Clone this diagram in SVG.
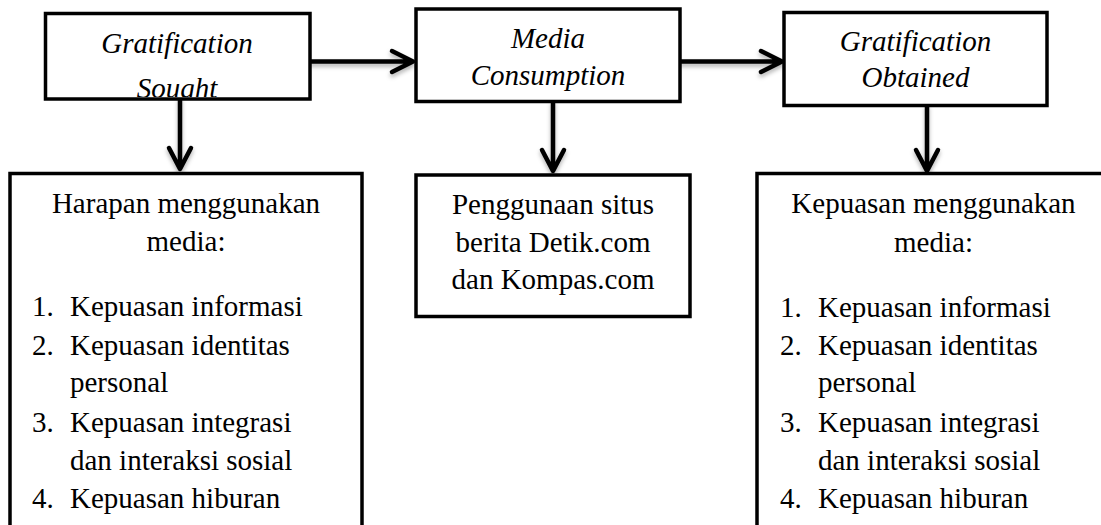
<svg xmlns="http://www.w3.org/2000/svg" width="1101" height="525" viewBox="0 0 1101 525">
<style>
.box{fill:#fff;stroke:#000;stroke-width:3.5}
text{font-family:'Liberation Serif',Tinos,'Times New Roman',Times,serif;font-size:29px;fill:#000}
.i{font-style:italic}
.c{text-anchor:middle}
.ln{fill:none;stroke:#000;stroke-width:4.5;stroke-linecap:round;stroke-linejoin:round}
</style>
<defs>
<filter id="sh" x="-20%" y="-20%" width="140%" height="160%">
<feDropShadow dx="0" dy="3" stdDeviation="2" flood-color="#000" flood-opacity="0.3"/>
</filter>
<clipPath id="clip1"><rect x="47" y="15" width="261" height="82"/></clipPath>
</defs>
<rect width="1101" height="525" fill="#fff"/>
<g id="connectors" filter="url(#sh)">
<path class="ln" d="M310 61.5 H412 M392 51 L413 61.5 L392 72"/>
<path class="ln" d="M680 61.5 H781 M761 51 L782 61.5 L761 72"/>
<path class="ln" d="M180 99 V168 M169 148 L180 169 L191 148"/>
<path class="ln" d="M553 102 V170 M542 150 L553 171 L564 150"/>
<path class="ln" d="M927 106 V170 M916 150 L927 171 L938 150"/>
</g>
<g id="gratification-sought">
<rect class="box" x="45.5" y="13.5" width="264.5" height="85.5"/>
<g clip-path="url(#clip1)">
<text class="i c" x="177" y="53">Gratification</text>
<text class="i c" x="177" y="98">Sought</text>
</g>
</g>
<g id="media-consumption">
<rect class="box" x="416" y="9" width="264" height="92.5"/>
<text class="i c" x="548" y="48">Media</text>
<text class="i c" x="548" y="85">Consumption</text>
</g>
<g id="gratification-obtained">
<rect class="box" x="784" y="12.5" width="263" height="93"/>
<text class="i c" x="915.5" y="51">Gratification</text>
<text class="i c" x="915.5" y="87">Obtained</text>
</g>
<g id="harapan">
<rect class="box" x="10" y="173.5" width="352" height="380"/>
<text class="c" x="186" y="213">Harapan menggunakan</text>
<text class="c" x="186" y="251">media:</text>
<text x="32" y="316">1.</text><text x="70" y="316">Kepuasan informasi</text>
<text x="32" y="355">2.</text><text x="70" y="355">Kepuasan identitas</text>
<text x="70" y="392">personal</text>
<text x="32" y="432">3.</text><text x="70" y="432">Kepuasan integrasi</text>
<text x="70" y="470">dan interaksi sosial</text>
<text x="32" y="508">4.</text><text x="70" y="508">Kepuasan hiburan</text>
</g>
<g id="penggunaan">
<rect class="box" x="416" y="175" width="274" height="141.5"/>
<text class="c" x="553" y="214">Penggunaan situs</text>
<text class="c" x="553" y="252">berita Detik.com</text>
<text class="c" x="553" y="289">dan Kompas.com</text>
</g>
<g id="kepuasan">
<rect class="box" x="757" y="173.5" width="380" height="380"/>
<text class="c" x="933.5" y="213">Kepuasan menggunakan</text>
<text class="c" x="933.5" y="252">media:</text>
<text x="780" y="317">1.</text><text x="818" y="317">Kepuasan informasi</text>
<text x="780" y="355">2.</text><text x="818" y="355">Kepuasan identitas</text>
<text x="818" y="392">personal</text>
<text x="780" y="432">3.</text><text x="818" y="432">Kepuasan integrasi</text>
<text x="818" y="470">dan interaksi sosial</text>
<text x="780" y="508">4.</text><text x="818" y="508">Kepuasan hiburan</text>
</g>
</svg>
